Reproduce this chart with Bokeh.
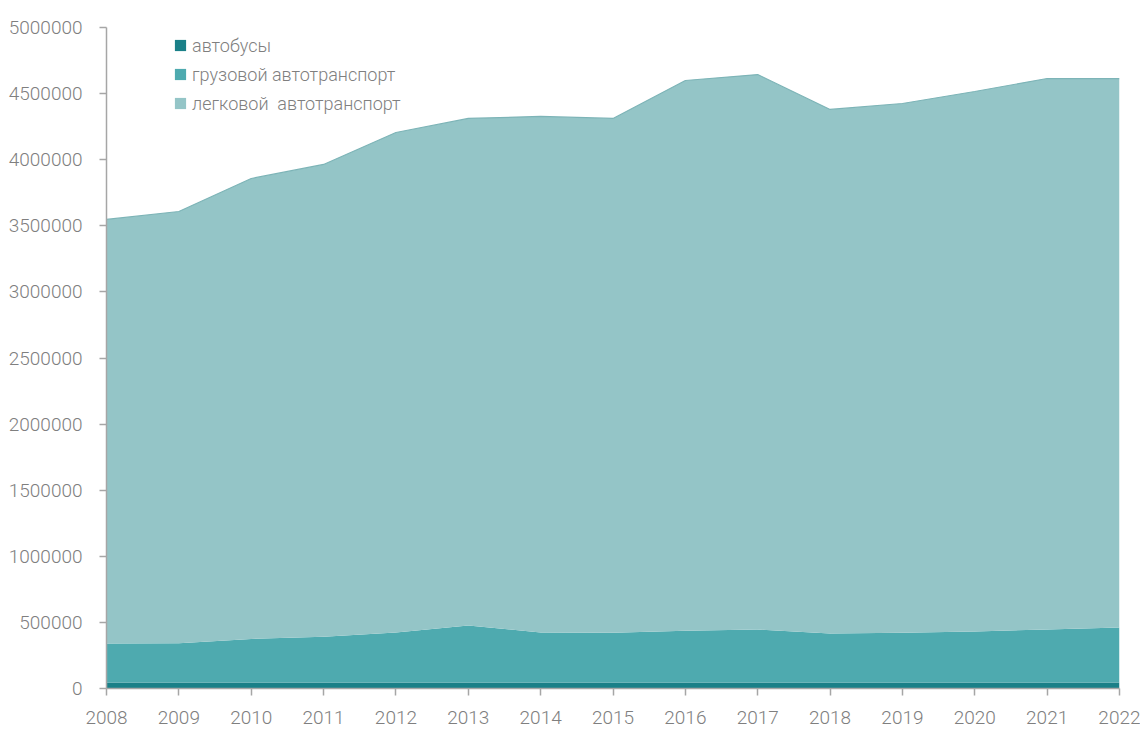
from bokeh.plotting import figure
from bokeh.models import FixedTicker, NumeralTickFormatter, ColumnDataSource, Range1d, Legend, LegendItem
from bokeh.embed import file_html
from bokeh.resources import INLINE

years = list(range(2008, 2023))
buses = [45000] * 15
trucks_total = [340000, 342000, 375000, 392000, 424000, 477000, 424000, 422000, 437000, 446000, 416000, 422000, 432000, 446000, 461000]
all_total = [3548000, 3608000, 3858000, 3964000, 4206000, 4312000, 4327000, 4312000, 4599000, 4644000, 4380000, 4425000, 4516000, 4614000, 4614000]
trucks = [t - b for t, b in zip(trucks_total, buses)]
cars = [a - t for a, t in zip(all_total, trucks_total)]

labels = ["автобусы", "грузовой автотранспорт", "легковой  автотранспорт"]
colors = ["#1A8088", "#4EAAAF", "#94C5C7"]

src = ColumnDataSource(dict(year=years, buses=buses, trucks=trucks, cars=cars, total=all_total))

p = figure(width=1140, height=731, output_backend="svg", toolbar_location=None,
           x_range=Range1d(2008, 2022), y_range=Range1d(0, 5000000),
           min_border_left=106, min_border_right=21, min_border_top=27, min_border_bottom=43)
p.outline_line_color = None
p.grid.visible = False
p.background_fill_color = "white"

rs = p.varea_stack(["buses", "trucks", "cars"], x="year", color=colors, source=src)
p.line("year", "total", source=src, line_color="#7DB4B7", line_width=1.2)

font = "Roboto Light"
grey = "#7F7F7F"
axc = "#A6A6A6"

p.yaxis.ticker = FixedTicker(ticks=list(range(0, 5000001, 500000)))
p.yaxis.formatter = NumeralTickFormatter(format="0")
p.xaxis.ticker = FixedTicker(ticks=years)
for ax in (p.xaxis, p.yaxis):
    ax.axis_line_color = axc
    ax.axis_line_width = 1.5
    ax.major_tick_line_color = axc
    ax.major_tick_line_width = 1.5
    ax.minor_tick_line_color = None
    ax.major_tick_in = 0
    ax.major_tick_out = 7
    ax.major_label_text_font = font
    ax.major_label_text_color = grey
    ax.major_label_text_font_size = "19px"
p.yaxis.major_label_standoff = 17
p.xaxis.major_label_standoff = 15

legend = Legend(items=[LegendItem(label=l, renderers=[r]) for l, r in zip(labels, rs)],
                location=(67, 574), orientation="vertical")
legend.border_line_color = None
legend.background_fill_alpha = 0
legend.label_text_font = font
legend.label_text_color = grey
legend.label_text_font_size = "18px"
legend.glyph_width = 14
legend.glyph_height = 14
legend.label_standoff = 5
legend.label_height = 22
legend.spacing = 7
legend.padding = 0
legend.margin = 0
p.add_layout(legend, "center")

open("out.html", "w").write(file_html(p, INLINE))
